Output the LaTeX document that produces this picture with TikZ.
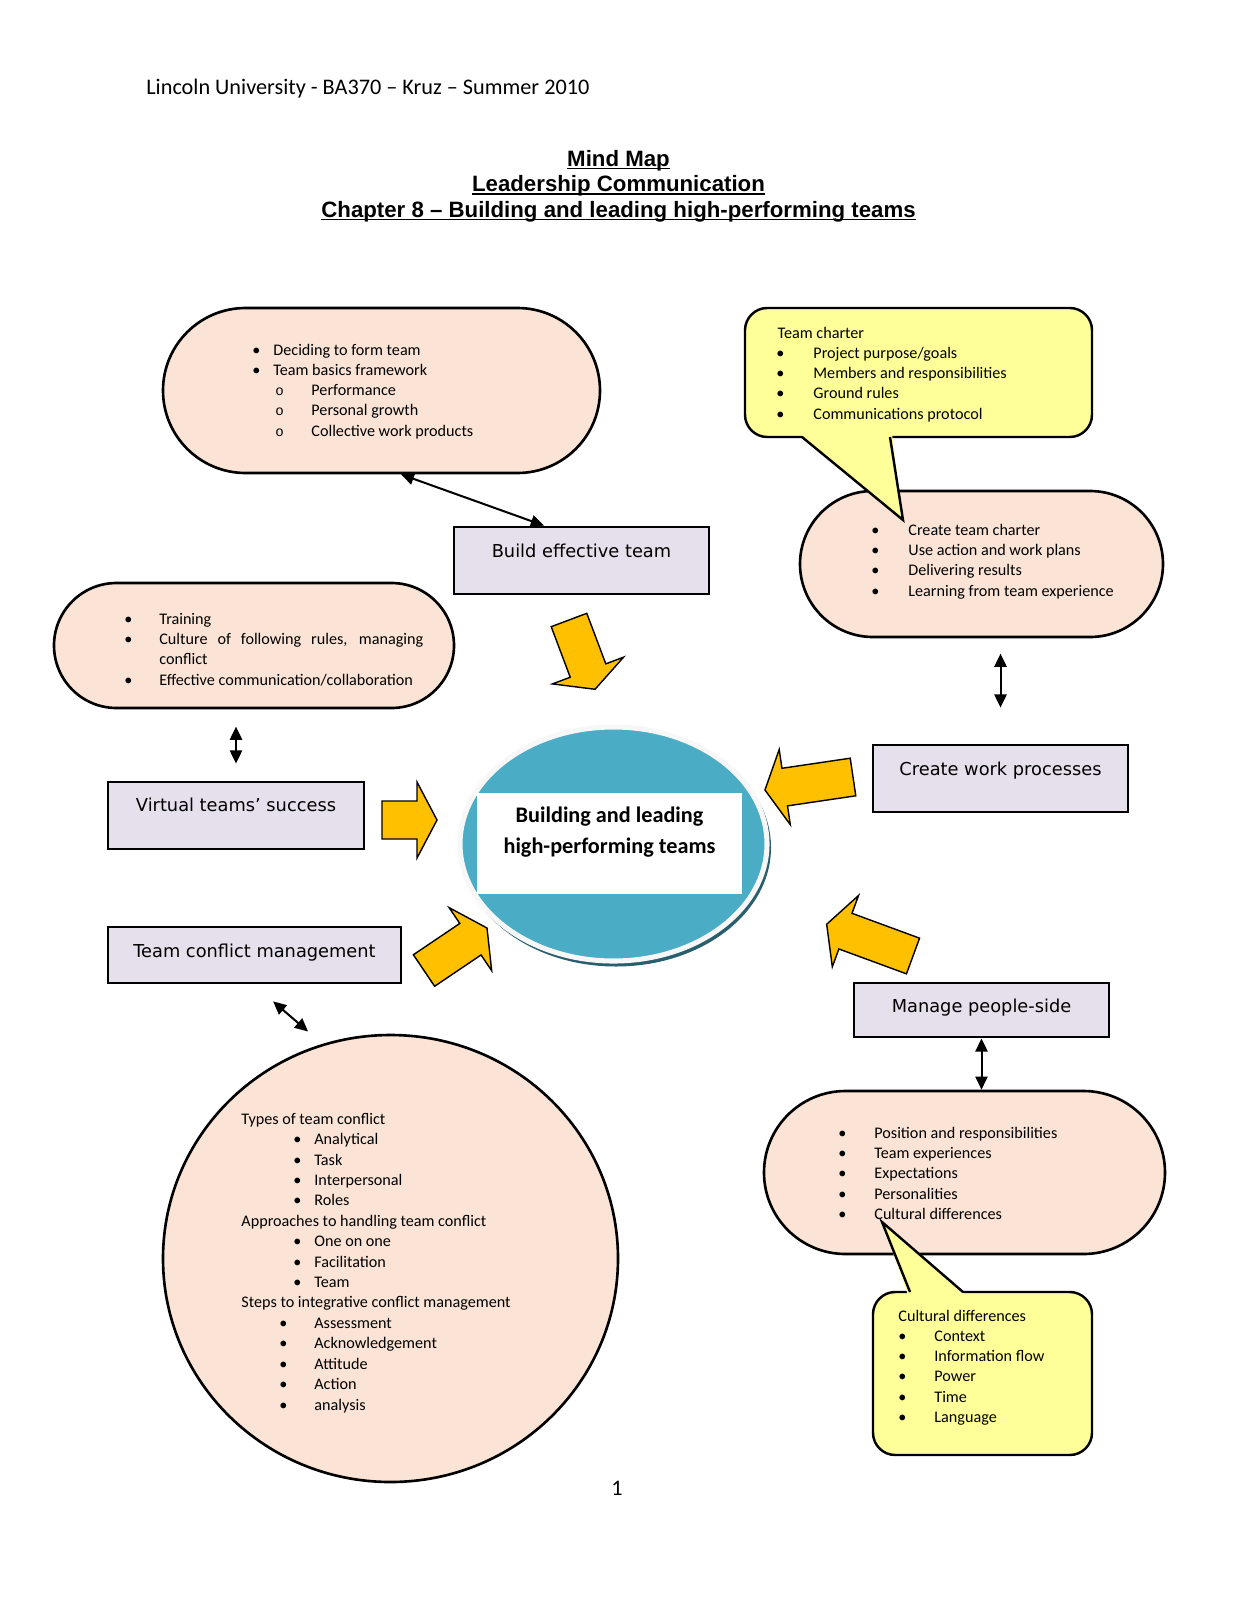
\documentclass[tikz,border=0pt]{standalone}
\usepackage{fontspec}
\setmainfont{Carlito}
\newfontfamily\verd{DejaVu Sans}
\newfontfamily\arial{Liberation Sans}
\newfontfamily\cour{Liberation Mono}
\usetikzlibrary{shapes.misc,shapes.geometric,arrows.meta}
\definecolor{peach}{HTML}{FBE4D5}
\definecolor{lav}{HTML}{E5E0EC}
\definecolor{cyel}{HTML}{FFFF99}
\definecolor{yel}{HTML}{FFC000}
\definecolor{cblue}{HTML}{4BACC6}
\newcommand{\pxu}{0.4947pt}
\newcommand{\itm}[2]{\makebox[#1][l]{\textbullet}#2}
\newcommand{\sub}{\hspace*{11.4pt}\makebox[17.8pt][l]{\cour\fontsize{7}{7}\selectfont o}}
\newcommand{\ulin}[1]{\setbox0\hbox{#1}\rlap{\rule[-1.6pt]{\wd0}{0.65pt}}\box0}
\newcommand{\barrow}[3]{\draw[yarrow,shift={(#1)},rotate=#2] (0,-19) -- ({#3-20},-19) -- ({#3-20},-38) -- (#3,0) -- ({#3-20},38) -- ({#3-20},19) -- (0,19) -- cycle;}

\begin{document}
\begin{tikzpicture}[x=0.4947pt,y=-0.4947pt]
\tikzstyle{pill}=[rounded rectangle, draw, fill=peach, line width=1.3pt, inner sep=0pt]
\tikzstyle{lbox}=[rectangle, draw, fill=lav, line width=1.4pt, inner sep=0pt, font=\verd\fontsize{8.8}{10.6}\selectfont, text height=7pt, minimum width=255*\pxu, minimum height=67*\pxu]
\tikzstyle{cbox}=[rectangle, rounded corners=11pt, draw, fill=cyel, line width=1.2pt, inner sep=0pt]
\tikzstyle{txt}=[align=left, inner sep=0pt, anchor=base west, font=\fontsize{8}{10.05}\selectfont]
\tikzstyle{dbl}=[{Triangle[length=6.5pt,width=6pt]}-{Triangle[length=6.5pt,width=6pt]}, line width=1pt]
\tikzstyle{yarrow}=[fill=yel, draw, line width=0.7pt]

\useasboundingbox (0,0) rectangle (1237,1600);
\fill[white] (0,0) rectangle (1237,1600);

\node[anchor=base west, inner sep=0pt, font=\fontsize{11}{13}\selectfont] (hd) at (146,95) {Lincoln University - BA370 – Kruz – Summer 2010};
\node[anchor=base, align=center, inner sep=0pt, font=\arial\bfseries\fontsize{11}{12.6}\selectfont] (ti) at (618.5,217) {\ulin{Mind Map}\\\ulin{Leadership Communication}\\\ulin{Chapter 8 – Building and leading high-performing teams}};

\node[pill, minimum width=437*\pxu, minimum height=165*\pxu] (p1) at (381.5,390.5) {};
\node[txt] (t1) at (252,436.3) {\itm{10.4pt}{Deciding to form team}\\\itm{10.4pt}{Team basics framework}\\\sub Performance\\\sub Personal growth\\\sub Collective work products};

\node[lbox, text depth=9.8pt] (b1) at (581.5,560.5) {Build effective team};
\draw[dbl] ([xshift=9.6pt]p1.south) -- ([xshift=-18.6pt]b1.north);

\node[pill, minimum width=363*\pxu, minimum height=146*\pxu] (p2) at (981.5,564) {};
\node[txt] (t2) at (871,596) {\itm{18.3pt}{Create team charter}\\\itm{18.3pt}{Use action and work plans}\\\itm{18.3pt}{Delivering results}\\\itm{18.3pt}{Learning from team experience}};

\node[cbox, minimum width=347*\pxu, minimum height=129*\pxu] (c1) at (918.5,372.5) {};
\fill[cyel] (800,434) -- (903,520) -- (892,434) -- cycle;
\draw[line width=1.2pt] (802,437) -- (903,520) -- (890,437);
\node[txt] (t3) at (776,419.3) {\hspace*{0.6pt}Team charter\\\itm{18.3pt}{Project purpose/goals}\\\itm{18.3pt}{Members and responsibilities}\\\itm{18.3pt}{Ground rules}\\\itm{18.3pt}{Communications protocol}};

\node[lbox, text depth=9.8pt] (b2) at (1000.5,778.5) {Create work processes};
\draw[dbl] ([yshift=44.5pt]b2.north) -- ([yshift=17.8pt]b2.north);

\node[pill, minimum width=400*\pxu, minimum height=125*\pxu] (p3) at (254,645.5) {};
\node[txt] (t4) at (124,685) {\itm{17.3pt}{Training}\\\itm{17.3pt}{\makebox[130.6pt][s]{Culture of following rules, managing}}\\\hspace*{17.3pt}conflict\\\itm{17.3pt}{Effective communication/collaboration}};

\node[lbox, text depth=10.8pt, minimum width=256*\pxu] (b3) at (236,815.5) {Virtual teams’ success};
\draw[dbl] ([yshift=26.7pt]b3.north) -- ([yshift=8.4pt]b3.north);

\node[lbox, text depth=4.4pt, minimum width=293*\pxu, minimum height=56*\pxu] (b4) at (254.5,955) {Team conflict management};

\fill[cblue!55!black] (616,847.5) ellipse (155 and 119);
\node[ellipse, fill=cblue, draw=gray!6, line width=2.5pt, minimum width=307*\pxu, minimum height=234*\pxu] (e) at (613.5,844) {};
\node[rectangle, fill=white, minimum width=265*\pxu, minimum height=101*\pxu] (w) at (609.5,843.5) {};
\node[anchor=base, align=center, inner sep=0pt, font=\bfseries\fontsize{11}{15.3}\selectfont] (ct) at (609.5,853) {Building and leading\\high-performing teams};

\barrow{569,620}{-69.4}{74}
\barrow{853,777}{-171.6}{89}
\barrow{382,820}{0}{55}
\barrow{424,970.5}{34}{76}
\barrow{913,956}{159.8}{92}

\node[ellipse, draw, fill=peach, line width=1.3pt, minimum width=455*\pxu, minimum height=447*\pxu] (f) at (390.5,1258.5) {};
\draw[dbl] ([xshift=9.2pt,yshift=-8.4pt]b4.south) -- ([xshift=26.5pt,yshift=-23.3pt]b4.south);
\node[txt, font=\fontsize{8}{10.1}\selectfont] (t5) at (241,1410) {Types of team conflict\\\hspace*{25.7pt}\itm{10.4pt}{Analytical}\\\hspace*{25.7pt}\itm{10.4pt}{Task}\\\hspace*{25.7pt}\itm{10.4pt}{Interpersonal}\\\hspace*{25.7pt}\itm{10.4pt}{Roles}\\Approaches to handling team conflict\\\hspace*{25.7pt}\itm{10.4pt}{One on one}\\\hspace*{25.7pt}\itm{10.4pt}{Facilitation}\\\hspace*{25.7pt}\itm{10.4pt}{Team}\\Steps to integrative conflict management\\\hspace*{18.8pt}\itm{17.3pt}{Assessment}\\\hspace*{18.8pt}\itm{17.3pt}{Acknowledgement}\\\hspace*{18.8pt}\itm{17.3pt}{Attitude}\\\hspace*{18.8pt}\itm{17.3pt}{Action}\\\hspace*{18.8pt}\itm{17.3pt}{analysis}};

\node[lbox, text depth=4.4pt, minimum height=54*\pxu] (b5) at (981.5,1010) {Manage people-side};
\node[pill, minimum width=401*\pxu, minimum height=163*\pxu] (p4) at (964.5,1172.5) {};
\draw[dbl] (b5.south) -- (b5.south |- p4.north);
\node[txt] (t6) at (838,1219.3) {\itm{17.8pt}{Position and responsibilities}\\\itm{17.8pt}{Team experiences}\\\itm{17.8pt}{Expectations}\\\itm{17.8pt}{Personalities}\\\itm{17.8pt}{Cultural differences}};

\node[cbox, minimum width=219*\pxu, minimum height=163*\pxu] (c2) at (982.5,1373.5) {};
\fill[cyel] (908,1295) -- (882,1222) -- (965,1295) -- cycle;
\draw[line width=1.2pt] (910,1292) -- (882,1222) -- (963,1292);
\node[txt] (t7) at (898,1422.6) {Cultural differences\\\itm{17.8pt}{Context}\\\itm{17.8pt}{Information flow}\\\itm{17.8pt}{Power}\\\itm{17.8pt}{Time}\\\itm{17.8pt}{Language}};

\node[anchor=base, inner sep=0pt, font=\fontsize{11}{13}\selectfont] (pg) at (617,1495) {1};
\end{tikzpicture}
\end{document}
